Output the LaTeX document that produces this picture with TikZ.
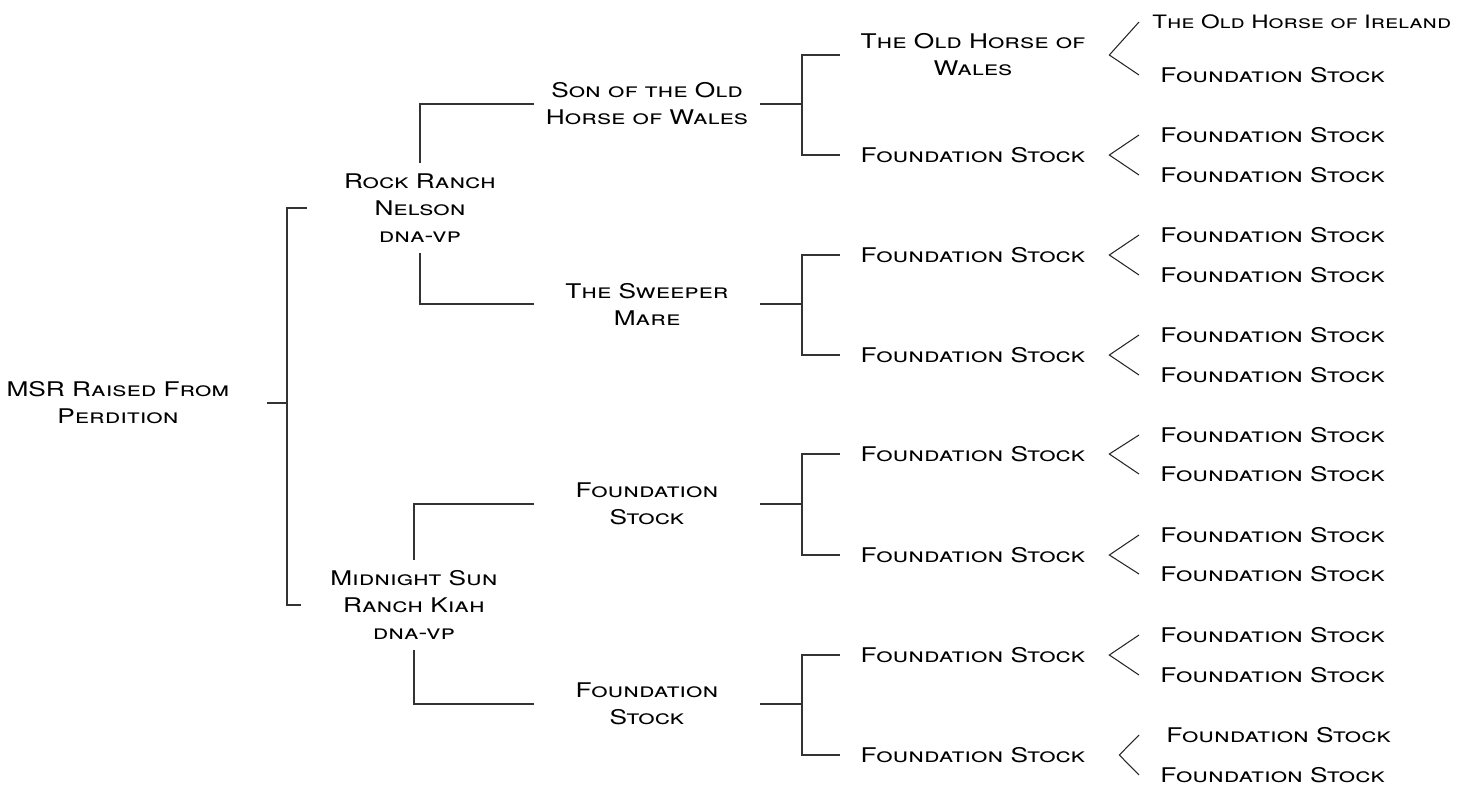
\documentclass[tikz,border=0pt]{standalone}
\usepackage{fontspec}
\setmainfont{TeX Gyre Heros}[FakeStretch=1.3]
\usepackage{tikz}

\begin{document}
\begin{tikzpicture}[
    x=0.02cm, y=-0.02cm,
    horse/.style={align=center, inner sep=0pt, minimum width=4.52cm, minimum height=1.8cm, font=\fontsize{11.5}{15.4}\selectfont\scshape},
    root/.style={horse, minimum width=5.96cm},
    gran/.style={horse, minimum width=5.32cm, minimum height=0pt},
    far/.style={anchor=west, inner ysep=0pt, inner xsep=0.42cm, font=\fontsize{11.5}{15.4}\selectfont\scshape},
    link/.style={draw=black!80, line width=1.1pt},
    fork/.style={draw=black!85, line width=0.6pt}
]
\useasboundingbox (0,0) rectangle (1468,785);

% Horse
\node[root] (msr) at (118,403) {MSR Raised From\\Perdition};

% Sire and dam
\node[horse] (sire) at (420,208) {Rock Ranch\\Nelson\\dna-vp};
\node[horse] (dam) at (414,605) {Midnight Sun\\Ranch Kiah\\dna-vp};
\draw[link] (msr.east) -- ++(20,0) coordinate (msr_j);
\draw[link] (msr_j) |- (sire.west);
\draw[link] (msr_j) |- (dam.west);

% Grandparents
\node[horse, minimum height=0pt] (ss) at (647,104) {Son of the Old\\Horse of Wales};
\node[horse, minimum height=0pt] (sd) at (647,304) {The Sweeper\\Mare};
\node[horse, minimum height=0pt] (ds) at (647,504) {Foundation\\Stock};
\node[horse, minimum height=0pt] (dd) at (647,704) {Foundation\\Stock};
\draw[link] (sire.north) |- (ss.west);
\draw[link] (sire.south) |- (sd.west);
\draw[link] (dam.north) |- (ds.west);
\draw[link] (dam.south) |- (dd.west);

% Great-grandparents
\node[gran] (sss) at (973,55) {The Old Horse of\\Wales};
\node[gran] (ssd) at (973,155) {Foundation Stock};
\node[gran] (sds) at (973,255) {Foundation Stock};
\node[gran] (sdd) at (973,355) {Foundation Stock};
\node[gran] (dss) at (973,454) {Foundation Stock};
\node[gran] (dsd) at (973,555) {Foundation Stock};
\node[gran] (dds) at (973,655) {Foundation Stock};
\node[gran] (ddd) at (973,755) {Foundation Stock};
\draw[link] (ss.east) -- ++(42,0) coordinate (ss_j);
\draw[link] (ss_j) |- (sss.west);
\draw[link] (ss_j) |- (ssd.west);
\draw[link] (sd.east) -- ++(42,0) coordinate (sd_j);
\draw[link] (sd_j) |- (sds.west);
\draw[link] (sd_j) |- (sdd.west);
\draw[link] (ds.east) -- ++(42,0) coordinate (ds_j);
\draw[link] (ds_j) |- (dss.west);
\draw[link] (ds_j) |- (dsd.west);
\draw[link] (dd.east) -- ++(42,0) coordinate (dd_j);
\draw[link] (dd_j) |- (dds.west);
\draw[link] (dd_j) |- (ddd.west);

% Great-great-grandparents
\node[far, inner xsep=0.26cm, font=\fontsize{10.5}{15.4}\selectfont\scshape] (sss_s) at (1139,22) {The Old Horse of Ireland};
\node[far] (sss_d) at (1139,75) {Foundation Stock};
\node[far] (ssd_s) at (1139,135) {Foundation Stock};
\node[far] (ssd_d) at (1139,175) {Foundation Stock};
\node[far] (sds_s) at (1139,235) {Foundation Stock};
\node[far] (sds_d) at (1139,275) {Foundation Stock};
\node[far] (sdd_s) at (1139,335) {Foundation Stock};
\node[far] (sdd_d) at (1139,375) {Foundation Stock};
\node[far] (dss_s) at (1139,435) {Foundation Stock};
\node[far] (dss_d) at (1139,474) {Foundation Stock};
\node[far] (dsd_s) at (1139,535) {Foundation Stock};
\node[far] (dsd_d) at (1139,574) {Foundation Stock};
\node[far] (dds_s) at (1139,635) {Foundation Stock};
\node[far] (dds_d) at (1139,675) {Foundation Stock};
\node[far] (ddd_s) at (1145,735) {Foundation Stock};
\node[far] (ddd_d) at (1139,775) {Foundation Stock};
\draw[fork] (sss_s.west) -- ([xshift=0.06cm]sss.east) -- (sss_d.west);
\draw[fork] (ssd_s.west) -- ([xshift=0.06cm]ssd.east) -- (ssd_d.west);
\draw[fork] (sds_s.west) -- ([xshift=0.06cm]sds.east) -- (sds_d.west);
\draw[fork] (sdd_s.west) -- ([xshift=0.06cm]sdd.east) -- (sdd_d.west);
\draw[fork] (dss_s.west) -- ([xshift=0.06cm]dss.east) -- (dss_d.west);
\draw[fork] (dsd_s.west) -- ([xshift=0.06cm]dsd.east) -- (dsd_d.west);
\draw[fork] (dds_s.west) -- ([xshift=0.06cm]dds.east) -- (dds_d.west);
\draw[fork] ([xshift=-0.12cm]ddd_s.west) -- ([xshift=0.26cm]ddd.east) -- (ddd_d.west);

\end{tikzpicture}
\end{document}
